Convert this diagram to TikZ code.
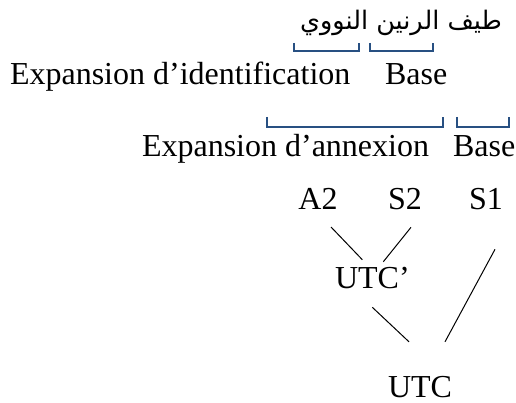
\documentclass[tikz,border=0pt]{standalone}
\usepackage{fontspec}
\setmainfont{Liberation Serif}
\newfontfamily\arabicfont[Script=Arabic]{DejaVu Sans}
\TeXXeTstate=1
\usetikzlibrary{calc}
\definecolor{brk}{RGB}{40,80,130}
\begin{document}
\begin{tikzpicture}[x=1pt,y=-1pt,
  txt/.style={inner sep=0pt,outer sep=0pt,font=\fontsize{32}{38}\selectfont},
  brkt/.style={draw=brk,line width=1.8pt,line cap=butt,line join=miter},
  conn/.style={draw=black,line width=1pt}]
\useasboundingbox (0,0) rectangle (516,403);
% Arabic title
\node[inner sep=0pt,anchor=base,font=\arabicfont\fontsize{25.5}{30}\selectfont] (ar) at (401,30) {\beginR طيف الرنين النووي\endR};
% brackets under Arabic
\draw[brkt] (294,43) -- (294,51) -- (359,51) -- (359,43);
\draw[brkt] (370,43) -- (370,51) -- (433,51) -- (433,43);
% second row
\node[txt,anchor=base west] (expid) at (10,85) {Expansion d’identification};
\node[txt,anchor=base west] (base1) at (385,85) {Base};
\draw[brkt] (267,117) -- (267,127) -- (443,127) -- (443,117);
\draw[brkt] (457,117) -- (457,127) -- (509,127) -- (509,117);
% third row
\node[txt,anchor=base west] (expan) at (142,157) {Expansion d’annexion};
\node[txt,anchor=base west] (base2) at (453,157) {Base};
% tree
\node[txt,anchor=base] (A2) at (318,210) {A2};
\node[txt,anchor=base] (S2) at (405,210) {S2};
\node[txt,anchor=base] (S1) at (486,210) {S1};
\node[txt,anchor=base west] (utcp) at (335,288) {UTC’};
\node[txt,anchor=base] (utc) at (420,397) {UTC};
\draw[conn] ([shift={(13,17)}]A2.south) -- ([shift={(-10,-7)}]utcp.north);
\draw[conn] ([shift={(6,17)}]S2.south) -- ([shift={(11,-5)}]utcp.north);
\draw[conn] ([shift={(0,19)}]utcp.south) -- ([shift={(-11,-34)}]utc.north);
\draw[conn] ([shift={(9,39)}]S1.south) -- ([shift={(25,-34)}]utc.north);
\end{tikzpicture}
\end{document}
